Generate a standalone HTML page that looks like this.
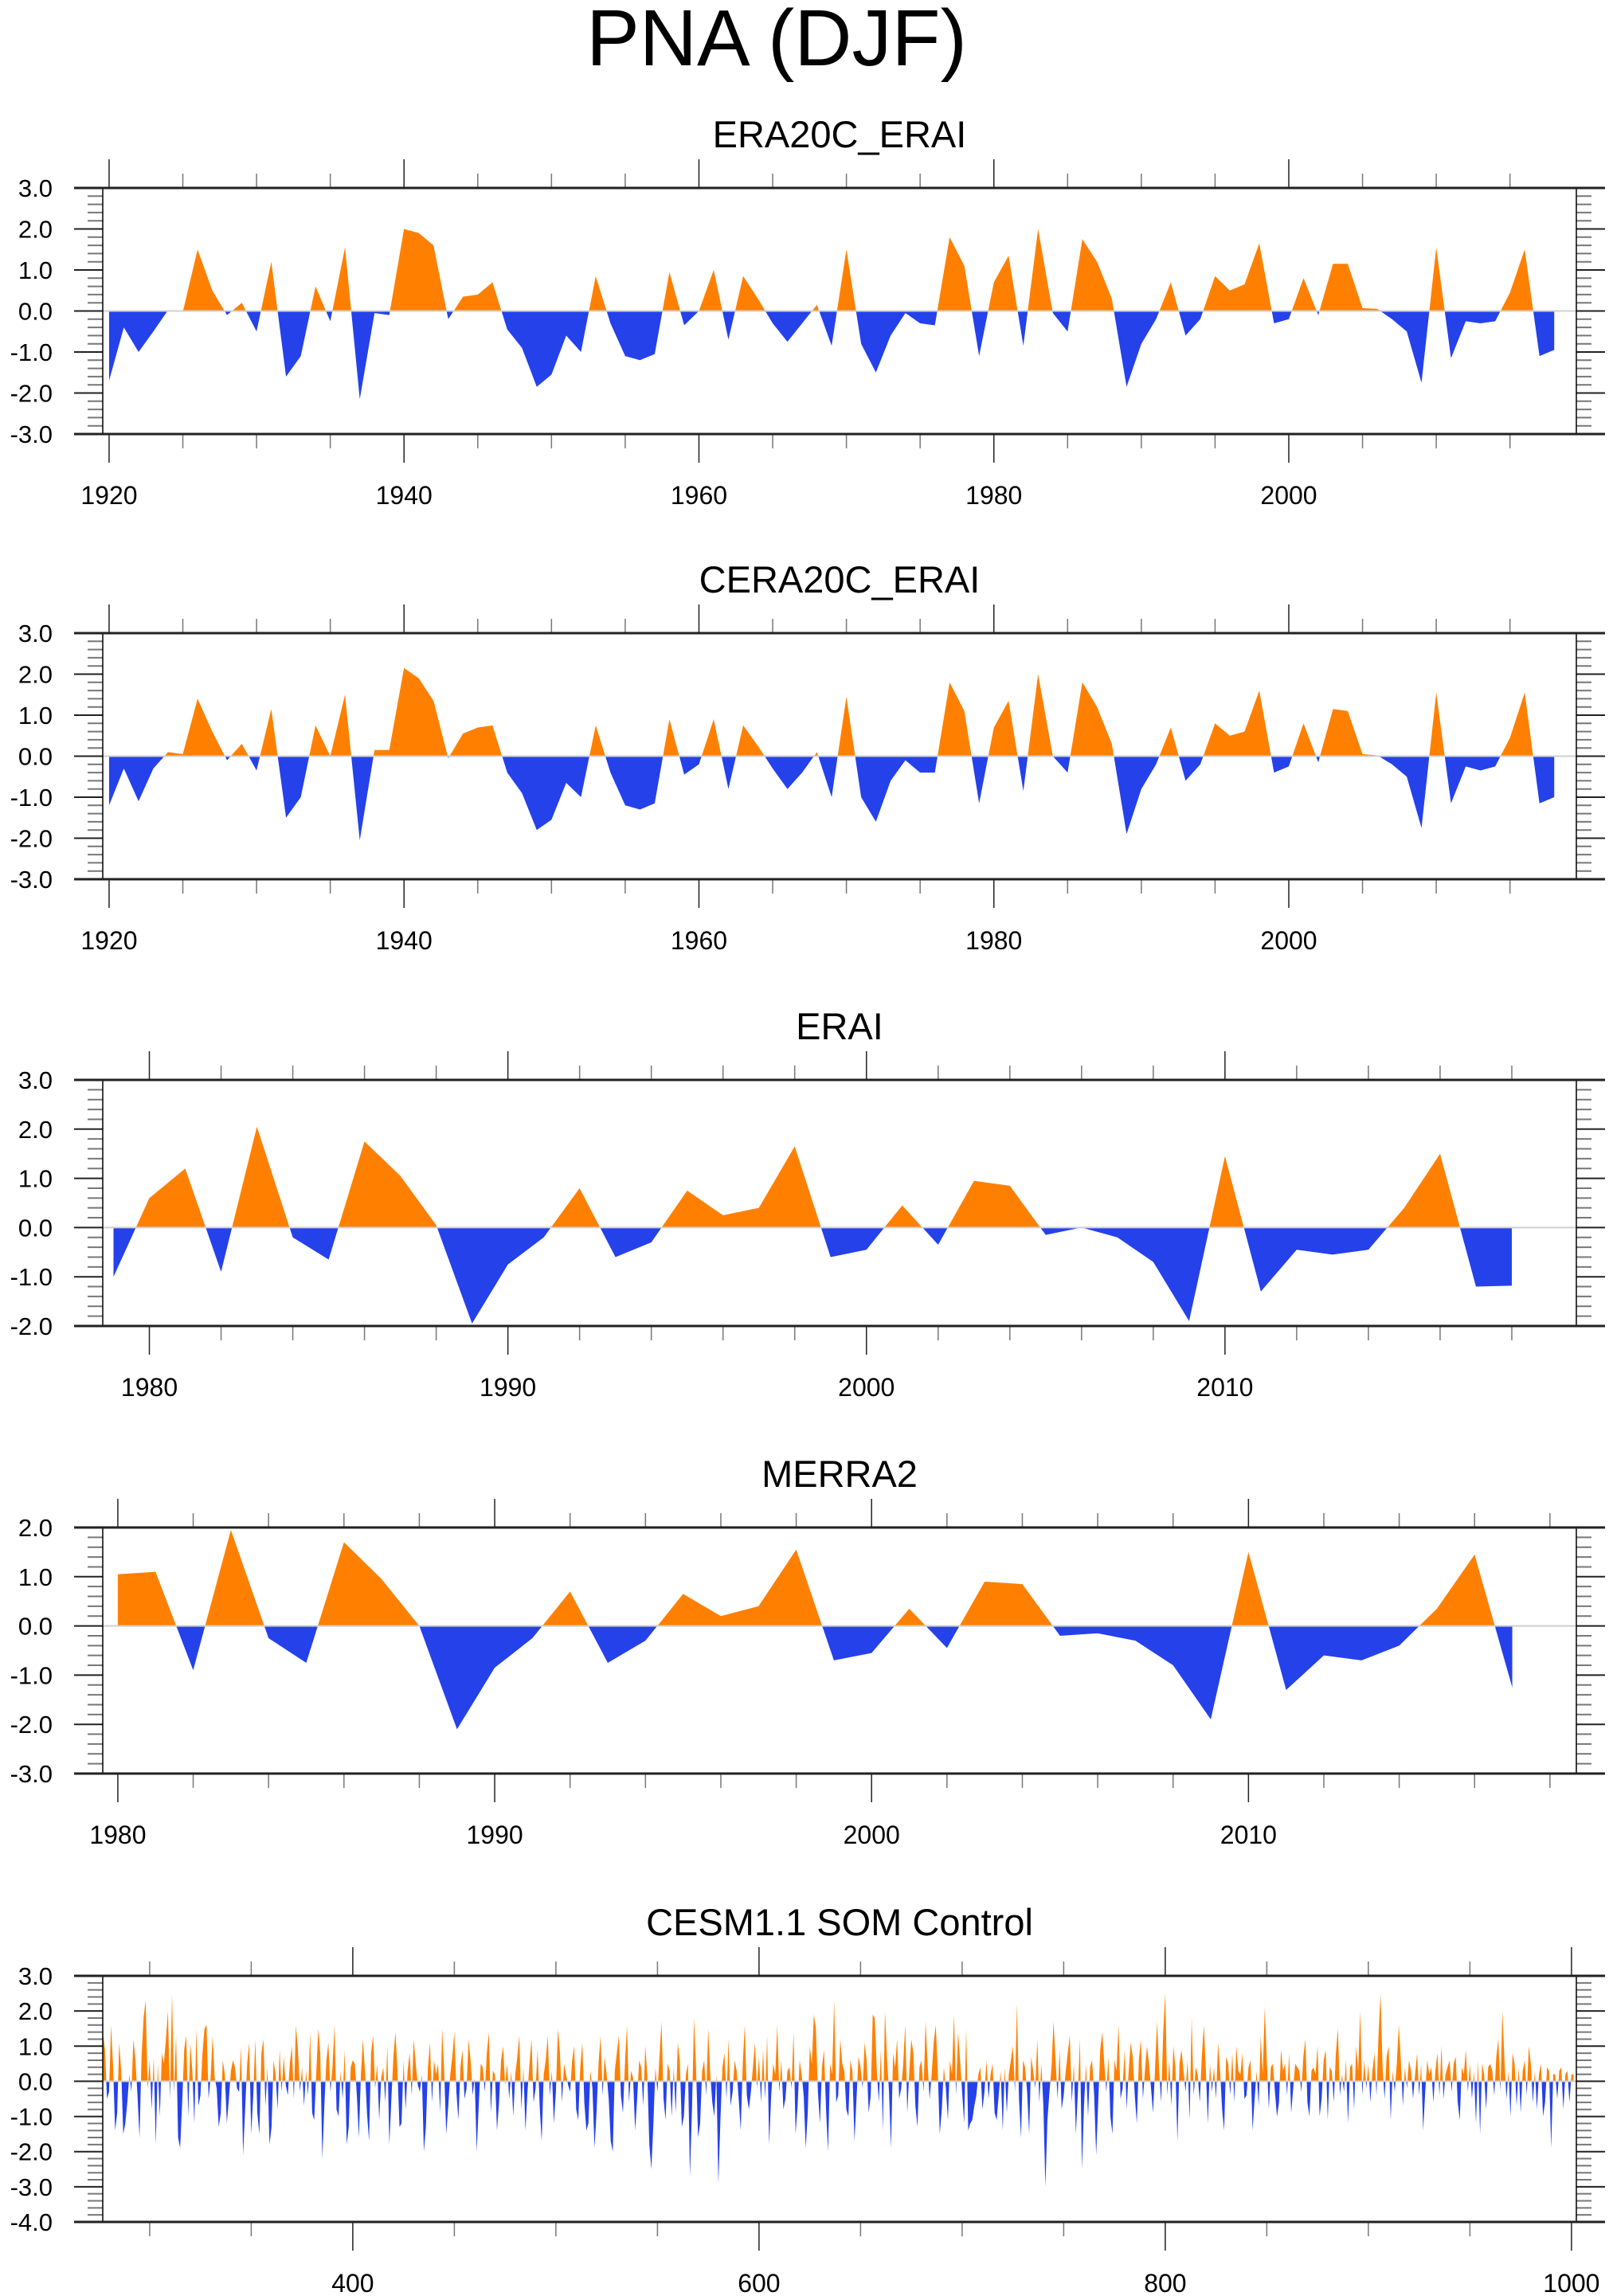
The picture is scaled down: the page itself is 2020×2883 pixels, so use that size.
<!DOCTYPE html>
<html><head><meta charset="utf-8"><title>PNA (DJF)</title>
<style>
html,body{margin:0;padding:0;background:#fff;}
svg{display:block;font-family:"Liberation Sans",sans-serif;}
</style></head>
<body>
<svg id="chart" width="2020" height="2883" viewBox="0 0 2020 2883" xmlns="http://www.w3.org/2000/svg">
<text x="975" y="82" font-size="100" text-anchor="middle" fill="#000">PNA (DJF)</text>
</svg>
<script>
// ---- data ----
const era20cStart = 1920;
const era20cValues = [-1.7,-0.4,-1.0,-0.5,0.02,-0.02,1.5,0.5,-0.1,0.2,-0.5,1.2,-1.6,-1.1,0.6,-0.25,1.55,-2.15,-0.05,-0.1,
2.0,1.9,1.6,-0.2,0.35,0.4,0.7,-0.45,-0.9,-1.85,-1.55,-0.6,-1.0,0.85,-0.3,-1.1,-1.2,-1.05,0.95,-0.35,
0.0,1.0,-0.7,0.85,0.3,-0.3,-0.75,-0.3,0.15,-0.85,1.5,-0.8,-1.5,-0.6,-0.05,-0.3,-0.35,1.8,1.1,-1.1,
0.7,1.35,-0.85,2.0,-0.05,-0.5,1.75,1.2,0.3,-1.85,-0.8,-0.2,0.7,-0.6,-0.2,0.85,0.5,0.65,1.65,-0.3,
-0.2,0.8,-0.1,1.15,1.15,0.07,0.05,-0.2,-0.5,-1.75,1.55,-1.15,-0.25,-0.3,-0.25,0.45,1.5,-1.1,-0.95];
const cera20cStart = 1920;
const cera20cValues = [-1.2,-0.3,-1.1,-0.3,0.1,0.05,1.4,0.6,-0.1,0.3,-0.35,1.15,-1.5,-1.0,0.75,0.0,1.5,-2.05,0.15,0.15,
2.15,1.9,1.35,-0.05,0.55,0.7,0.75,-0.4,-0.9,-1.8,-1.55,-0.65,-1.0,0.75,-0.4,-1.2,-1.3,-1.15,0.9,-0.45,
-0.2,0.9,-0.8,0.75,0.25,-0.3,-0.8,-0.4,0.1,-1.0,1.45,-1.0,-1.6,-0.6,-0.1,-0.4,-0.4,1.8,1.1,-1.15,
0.7,1.35,-0.85,2.0,0.0,-0.4,1.8,1.2,0.3,-1.9,-0.8,-0.2,0.7,-0.6,-0.2,0.8,0.5,0.6,1.6,-0.4,
-0.25,0.8,-0.15,1.15,1.1,0.05,0.02,-0.2,-0.5,-1.75,1.55,-1.15,-0.25,-0.35,-0.25,0.45,1.55,-1.15,-1.0];
const eraiStart = 1979;
const eraiValues = [-1.0,0.6,1.2,-0.9,2.05,-0.2,-0.65,1.75,1.05,0.05,-1.95,-0.75,-0.2,0.8,-0.6,-0.3,0.75,0.25,0.4,1.65,
-0.6,-0.45,0.45,-0.35,0.95,0.85,-0.15,0.0,-0.2,-0.7,-1.9,1.45,-1.3,-0.45,-0.55,-0.45,0.4,1.5,-1.2,-1.18];
const merra2Start = 1980;
const merra2Values = [1.05,1.1,-0.9,1.95,-0.25,-0.75,1.7,0.95,0.0,-2.1,-0.85,-0.25,0.7,-0.75,-0.3,0.65,0.2,0.4,1.55,-0.7,
-0.55,0.35,-0.45,0.9,0.85,-0.2,-0.15,-0.3,-0.8,-1.9,1.5,-1.3,-0.6,-0.7,-0.4,0.35,1.45,-1.25];
const cesmStart = 277;
const cesmValues = [
1.4,0.9,-0.5,-0.3,1.6,0.4,-1.4,-0.9,1.1,0.3,-1.5,-1.2,-0.6,0.2,-0.3,1.2,0.6,-0.4,-1.6,0.7,1.8,2.3,-0.2,0.6,-0.8,
0.7,-1.8,0.5,-1.0,0.8,0.5,1.2,2.0,-0.5,2.5,-0.3,1.3,-1.6,-1.9,-0.6,0.9,1.3,-1.0,1.1,0.3,-1.2,1.5,-0.7,-0.4,0.8,
1.5,1.6,-0.5,0.1,1.3,0.1,-0.2,-1.3,-0.9,0.6,0.2,-1.2,-0.5,0.3,0.6,0.4,-0.2,-0.3,1.0,-2.1,-0.8,0.5,1.1,-1.5,-0.4,
1.2,-0.9,-1.5,0.8,1.2,-0.7,0.4,-1.8,-1.3,0.6,0.2,-0.8,0.9,-0.3,0.7,-0.1,-0.4,0.5,1.0,-0.5,1.6,0.9,-0.3,0.4,-0.7,
0.3,-0.4,1.4,-0.9,-1.1,0.2,1.5,0.8,-2.2,-0.7,0.6,1.1,-0.3,0.4,1.6,-0.8,-1.0,0.3,-0.5,0.9,-1.8,-1.3,0.4,0.6,0.5,
-0.4,-1.6,0.2,1.2,0.3,-0.9,-1.7,0.8,1.3,-0.2,0.5,-1.1,0.1,0.4,-0.6,1.0,-1.8,-0.5,0.7,1.4,0.3,-1.3,-1.2,0.6,-0.8,
0.3,0.8,-0.4,1.2,0.5,-0.1,-0.3,0.2,-2.0,-1.3,0.4,1.1,-0.6,0.6,0.2,0.5,-0.9,1.5,0.3,-1.5,-0.7,0.2,0.7,1.4,-0.3,
-1.1,0.4,0.9,-0.5,-0.2,1.2,0.6,-0.4,0.1,-2.0,-0.7,0.5,0.4,-0.3,0.8,1.4,-0.9,0.3,0.2,-1.4,-0.6,0.6,1.0,-0.1,0.5,
-0.5,0.3,-1.0,0.2,0.7,1.3,-0.8,0.4,-1.4,-0.3,0.5,1.2,-0.6,-0.2,0.9,-0.7,-1.7,0.2,0.6,1.3,-0.4,0.3,-1.2,-0.3,1.5,
0.8,-0.6,0.5,0.2,-0.1,-0.3,0.6,1.0,-0.8,-1.1,0.4,1.1,-0.6,-1.4,-1.2,0.3,-0.2,-1.9,-0.9,0.5,1.3,-0.4,0.7,0.2,-0.5,
-1.7,-2.0,0.3,0.8,1.3,-0.4,-0.9,0.5,1.6,-0.6,0.3,0.1,-1.4,-0.5,0.6,0.4,-0.7,1.0,0.2,-1.8,-2.5,-1.2,0.4,-0.3,0.7,
1.7,-0.5,-1.1,0.5,0.3,-1.0,0.4,-0.9,1.1,0.6,-1.3,-1.0,0.2,0.5,-2.7,-0.8,1.8,0.4,-1.6,-1.2,0.3,0.6,-0.4,1.5,0.2,
-0.6,-1.0,0.2,-2.9,-1.1,0.4,0.8,-0.5,1.2,-0.7,-0.3,0.6,0.3,-0.5,-1.4,0.5,1.6,-0.4,-0.8,-0.3,0.4,1.1,-0.2,0.7,-0.6,
0.9,-0.5,1.3,-1.8,-0.4,0.5,0.2,1.6,-0.3,0.6,-0.8,-0.5,0.3,0.4,-0.2,1.4,-1.5,-0.7,0.6,0.2,-0.4,-1.9,-0.9,1.0,0.5,
1.9,1.5,-0.3,-1.2,0.4,0.9,-0.8,-2.0,0.5,0.2,2.3,-0.6,-0.4,1.2,0.5,0.3,-0.8,-1.0,0.6,0.3,-1.7,-0.5,0.7,0.4,-0.2,
1.1,0.6,-0.9,-0.4,1.9,1.8,0.3,-0.6,0.9,-1.4,2.0,0.7,-0.3,-1.9,0.8,0.4,1.2,-0.5,-0.2,0.5,1.6,-0.9,0.3,1.2,0.8,
-0.7,-1.3,0.4,0.6,-0.3,1.7,0.5,-0.5,0.2,1.1,1.6,0.3,-1.5,-0.8,0.4,-0.2,-1.1,0.6,0.2,1.9,-0.4,1.4,0.6,-0.3,-1.2,
1.5,-1.4,-1.2,-1.1,-0.7,-0.4,0.2,0.4,-0.8,-0.3,0.6,-0.5,0.2,0.5,-0.9,-1.1,-0.4,0.3,-1.4,0.4,-0.9,0.2,0.6,1.0,-0.3,
2.2,-0.5,-1.6,0.6,0.4,-0.3,-1.5,0.7,0.3,-0.2,1.2,-0.6,0.5,-0.7,-3.0,-1.1,-0.3,0.4,1.7,0.6,-0.5,0.9,-0.8,-0.4,0.3,
0.8,1.3,-0.6,0.5,-1.5,-0.3,1.2,-2.5,-0.7,0.5,-1.0,0.4,0.6,-0.4,-2.1,-0.6,0.9,1.4,0.5,-0.3,0.7,-1.0,-1.5,0.6,0.3,
1.6,-0.5,-0.2,0.9,-0.8,0.3,1.1,0.7,-0.4,-1.2,0.6,1.2,-0.5,0.3,1.0,0.5,-0.2,-0.9,0.4,1.7,0.3,-0.6,1.4,2.5,-0.4,
0.6,-0.7,1.0,0.4,-1.7,0.5,0.9,0.3,-0.3,0.6,-1.1,1.8,-0.4,0.4,0.2,-0.6,0.7,1.6,0.3,-1.2,0.5,-0.3,0.4,-0.5,1.1,
0.3,-0.8,-1.4,0.7,0.5,-0.4,0.8,-0.6,1.0,0.3,0.2,0.8,-0.5,-0.4,0.4,0.6,-1.4,-0.5,0.3,-0.7,1.3,0.2,2.1,0.6,-0.8,
0.4,0.5,-0.3,-1.0,-0.6,0.9,0.3,0.5,-0.4,0.8,-0.9,-0.2,0.5,0.4,0.3,-0.3,0.7,1.2,-0.6,-1.0,0.3,0.4,0.2,1.0,-1.0,
-0.5,0.6,0.9,-1.1,0.4,0.3,-0.6,0.8,1.5,-0.4,0.2,-0.3,0.6,-1.2,0.4,0.5,-0.8,1.0,0.3,2.0,-0.4,0.6,-0.2,0.5,-0.6,
0.3,0.8,-0.4,1.3,2.5,0.4,-0.5,0.7,1.0,-1.1,0.3,-0.3,0.5,1.6,0.6,-0.7,0.4,-0.2,0.6,0.3,-0.5,0.2,0.8,-0.4,0.5,
-1.4,-0.3,0.6,0.2,0.4,-0.6,0.3,0.8,-0.4,1.0,-0.5,0.2,0.4,0.6,-0.3,0.5,0.7,-0.6,-1.1,0.4,0.2,0.9,-0.3,0.5,-0.5,
0.3,-1.2,0.6,-1.5,0.5,0.2,-0.8,0.4,0.5,0.3,-0.4,0.7,1.2,-0.3,2.0,0.6,-0.5,0.3,-1.0,0.8,0.5,-0.7,0.4,-0.9,0.3,
0.6,-0.4,1.0,0.5,-0.6,0.3,-0.8,0.2,0.5,-1.0,-0.6,0.4,0.3,-1.9,0.2,0.2,-0.5,0.3,0.4,-0.8,0.2,0.3,-0.6,0.2,0.2];
const yTickLabels1 = ["-3.0","-2.0","-1.0","0.0","1.0","2.0","3.0"];
const yTickLabels3 = ["-2.0","-1.0","0.0","1.0","2.0","3.0"];
const yTickLabels5 = ["-4.0","-3.0","-2.0","-1.0","0.0","1.0","2.0","3.0"];
const xTickLabels1 = ["1920","1940","1960","1980","2000"];
const xTickLabels3 = ["1980","1990","2000","2010"];
const xTickLabels5 = ["400","600","800","1000"];

const NS = "http://www.w3.org/2000/svg";
const svg = document.getElementById('chart');
function mk(tag, attrs, parent){
  const e = document.createElementNS(NS, tag);
  for (const k in attrs) e.setAttribute(k, attrs[k]);
  (parent||svg).appendChild(e);
  return e;
}
let clipId = 0;
function panel(p){
  const g = mk('g', {});
  
  
  const L=129, R=1979, T=p.top, B=p.top+309;
  const xs = v => L + (v - p.xmin) / (p.xmax - p.xmin) * (R - L);
  const ys = v => B - (v - p.ymin) / (p.ymax - p.ymin) * (B - T);
  const t = mk('text', {x:(L+R)/2, y:T-51, 'font-size':47, 'text-anchor':'middle', fill:'#000'}, g);
  
  
  t.textContent = p.title;
  // fills
  const y0 = ys(0);
  let d = 'M' + xs(p.start) + ' ' + y0;
  p.values.forEach((v,i)=>{ d += ' L' + xs(p.start+i).toFixed(2) + ' ' + ys(v).toFixed(2); });
  d += ' L' + xs(p.start+p.values.length-1).toFixed(2) + ' ' + y0 + ' Z';
  const id1='cp'+(clipId++), id2='cp'+(clipId++);
  const defs = mk('defs', {}, g);
  const c1 = mk('clipPath', {id:id1}, defs); mk('rect', {x:L, y:T, width:R-L, height:y0-T}, c1);
  const c2 = mk('clipPath', {id:id2}, defs); mk('rect', {x:L, y:y0, width:R-L, height:B-y0}, c2);
  const pos = mk('path', {d:d, fill:'#ff8000', 'clip-path':'url(#'+id1+')'}, g);
  
  
  const neg = mk('path', {d:d, fill:'#2541ea', 'clip-path':'url(#'+id2+')'}, g);
  
  
  const zl = mk('line', {x1:L, x2:R, y1:y0, y2:y0, stroke:'#d0d0d0', 'stroke-width':2}, g);
  
  
  // y ticks
  for (let v = p.ymin; v <= p.ymax + 1e-6; v += 0.2) {
    const vv = Math.round(v*10)/10;
    const major = Math.abs(vv - Math.round(vv)) < 1e-6;
    const len = major ? 36 : 19;
    const y = ys(vv);
    mk('line', {x1:L-len, x2:L, y1:y, y2:y, stroke: major?'#222':'#777', 'stroke-width':2}, g);
    mk('line', {x1:R, x2:R+len, y1:y, y2:y, stroke: major?'#222':'#777', 'stroke-width':2}, g);
  }
  p.yLabels.forEach(lab=>{
    const tl = mk('text', {x:66, y:ys(parseFloat(lab))+11, 'font-size':31, 'text-anchor':'end', fill:'#000'}, g);
    
    
    tl.textContent = lab;
  });
  // x ticks
  const first = Math.ceil(p.xmin / p.minor) * p.minor;
  for (let v = first; v <= p.xmax; v += p.minor) {
    const major = Math.abs(v / p.major - Math.round(v / p.major)) < 1e-6;
    const len = major ? 36 : 18;
    const x = xs(v);
    mk('line', {x1:x, x2:x, y1:T-len, y2:T, stroke: major?'#222':'#777', 'stroke-width':1.5}, g);
    mk('line', {x1:x, x2:x, y1:B, y2:B+len, stroke: major?'#222':'#777', 'stroke-width':1.5}, g);
  }
  p.xLabels.forEach(lab=>{
    const tl = mk('text', {x:xs(parseFloat(lab)), y:B+88, 'font-size':32, 'text-anchor':'middle', fill:'#000'}, g);
    
    
    tl.textContent = lab;
  });
  // frame
  const fr = mk('rect', {x:L, y:T, width:R-L, height:B-T, fill:'none', stroke:'#000', 'stroke-width':1.5}, g);
  
  
  mk('line', {x1:L-36, x2:R+36, y1:T, y2:T, stroke:'#222', 'stroke-width':3}, g);
  mk('line', {x1:L-36, x2:R+36, y1:B, y2:B, stroke:'#222', 'stroke-width':3}, g);
}
panel({name:'era20c-erai', title:'ERA20C_ERAI', top:236, xmin:1919.57, xmax:2019.5, ymin:-3, ymax:3,
  start:era20cStart, values:era20cValues, yLabels:yTickLabels1, xLabels:xTickLabels1, minor:5, major:20});
panel({name:'cera20c-erai', title:'CERA20C_ERAI', top:795, xmin:1919.57, xmax:2019.5, ymin:-3, ymax:3,
  start:cera20cStart, values:cera20cValues, yLabels:yTickLabels1, xLabels:xTickLabels1, minor:5, major:20});
panel({name:'erai', title:'ERAI', top:1356, xmin:1978.7, xmax:2019.8, ymin:-2, ymax:3,
  start:eraiStart, values:eraiValues, yLabels:yTickLabels3, xLabels:xTickLabels3, minor:2, major:10});
panel({name:'merra2', title:'MERRA2', top:1918, xmin:1979.6, xmax:2018.7, ymin:-3, ymax:2,
  start:merra2Start, values:merra2Values, yLabels:["-3.0","-2.0","-1.0","0.0","1.0","2.0"], xLabels:xTickLabels3, minor:2, major:10});
panel({name:'cesm-som-control', title:'CESM1.1 SOM Control', top:2481, xmin:276.9, xmax:1002.4, ymin:-4, ymax:3,
  start:cesmStart, values:cesmValues, yLabels:yTickLabels5, xLabels:xTickLabels5, minor:50, major:200});
</script>
</body></html>
